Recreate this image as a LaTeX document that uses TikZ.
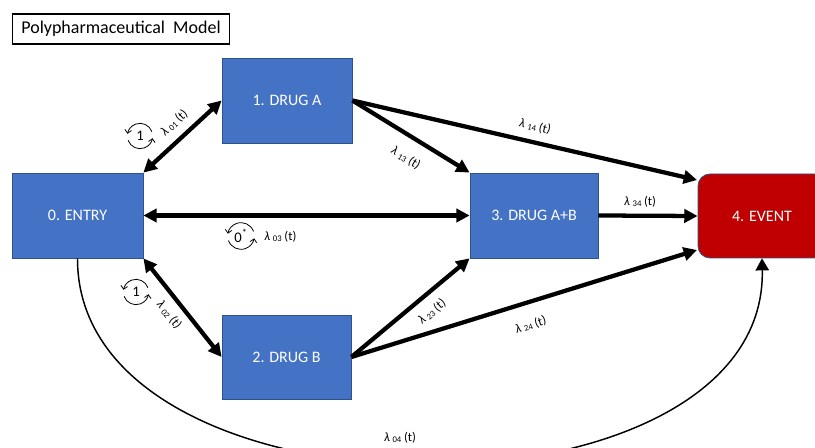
\documentclass[tikz,border=0pt]{standalone}
\usepackage{fontspec}
\setmainfont{Carlito}
\usetikzlibrary{arrows.meta,calc}
\definecolor{boxblue}{HTML}{4472C4}
\definecolor{boxedge}{HTML}{2F528F}
\definecolor{evred}{HTML}{C00000}
\newcommand\ratelab[1]{\textit{λ}\kern2pt{\fontsize{6.5}{7}\selectfont\raisebox{-0.3ex}{#1}}\kern2pt(t)}
\begin{document}
\begin{tikzpicture}[x=0.75pt,y=-0.75pt,
  state/.style={draw=boxedge,line width=0.6pt,fill=boxblue,text=white,
    font=\fontsize{12}{14}\selectfont,inner sep=0pt},
  trans/.style={line width=3.2pt,-{Triangle[length=10pt,width=10pt]}},
  bitrans/.style={line width=3.2pt,{Triangle[length=10pt,width=10pt]}-{Triangle[length=10pt,width=10pt]}},
  curvetrans/.style={line width=1.1pt,-{Triangle[length=9pt,width=10pt]}},
  rate/.style={font=\fontsize{9.5}{10}\selectfont,inner sep=1pt,sloped},
  loopnum/.style={font=\fontsize{11}{12}\selectfont,inner sep=0pt},
  looparr/.style={line width=0.6pt,-{Straight Barb[length=2.5pt,width=5pt]}},
  titlebox/.style={draw,line width=0.9pt,font=\fontsize{13.5}{15}\selectfont,inner sep=0pt}
]
\useasboundingbox (0,0) rectangle (815,448);

\node[titlebox,minimum width=162.75pt,minimum height=22.5pt] (title) at (121,29) {Polypharmaceutical~~Model};

\node[state,minimum width=98.25pt,minimum height=63.75pt] (Entry) at (77.5,215.5) {0. ENTRY};
\node[state,minimum width=97.5pt,minimum height=63.75pt] (DrugA) at (287,100.5) {1. DRUG A};
\node[state,minimum width=96.75pt,minimum height=63pt] (DrugB) at (286.5,357) {2. DRUG B};
\node[state,minimum width=96pt,minimum height=63.75pt] (DrugAB) at (534,215.5) {3. DRUG A+B};
\node[state,fill=evred,rounded corners=9pt,minimum width=96pt,minimum height=63pt] (Event) at (762,216) {4. EVENT};

\coordinate (EvTop) at (697,180);
\coordinate (EvBot) at (697,250);

\draw[bitrans] (Entry.north east) -- node[rate,above=5pt,pos=0.53] (l01) {\ratelab{01}} (DrugA.west);
\draw[bitrans] (Entry.east) -- node[rate,below=9pt,pos=0.42] (l03) {\ratelab{03}} (DrugAB.west);
\draw[bitrans] (Entry.south east) -- node[rate,below=4.5pt,pos=0.48] (l02) {\ratelab{02}} (DrugB.west);
\draw[trans] (DrugA.east) -- node[rate,below=9pt,pos=0.55] (l13) {\ratelab{13}} (DrugAB.north west);
\draw[trans] (DrugA.east) -- node[rate,above=5pt,pos=0.52] (l14) {\ratelab{14}} (EvTop);
\draw[trans] (DrugB.east) -- node[rate,below=6pt,pos=0.59] (l23) {\ratelab{23}} (DrugAB.south west);
\draw[trans] (DrugB.east) -- node[rate,below=10pt,pos=0.5] (l24) {\ratelab{24}} (EvBot);
\draw[trans] (DrugAB.east) -- node[rate,above=4pt,pos=0.42] (l34) {\ratelab{34}} (Event.west);
\draw[curvetrans] (Entry.south) .. controls (77,532) and (768,532) .. (Event.south);
\node[rate] (l04) at (400,438) {\ratelab{04}};

\node[loopnum] (L1) at (140,136) {1};
\draw[looparr] ([shift={(20:9.5pt)}]L1.center) arc[start angle=20,end angle=170,radius=9.5pt];
\draw[looparr] ([shift={(200:9.5pt)}]L1.center) arc[start angle=200,end angle=350,radius=9.5pt];

\node[loopnum] (L2) at (136,292) {1};
\draw[looparr] ([shift={(20:9.5pt)}]L2.center) arc[start angle=20,end angle=170,radius=9.5pt];
\draw[looparr] ([shift={(200:9.5pt)}]L2.center) arc[start angle=200,end angle=350,radius=9.5pt];

\node[loopnum] (L0) at (241,236) {0\textsuperscript{*}};
\draw[looparr] ([shift={(20:10pt)}]L0.center) arc[start angle=20,end angle=170,radius=10pt];
\draw[looparr] ([shift={(200:10pt)}]L0.center) arc[start angle=200,end angle=350,radius=10pt];
\end{tikzpicture}
\end{document}
